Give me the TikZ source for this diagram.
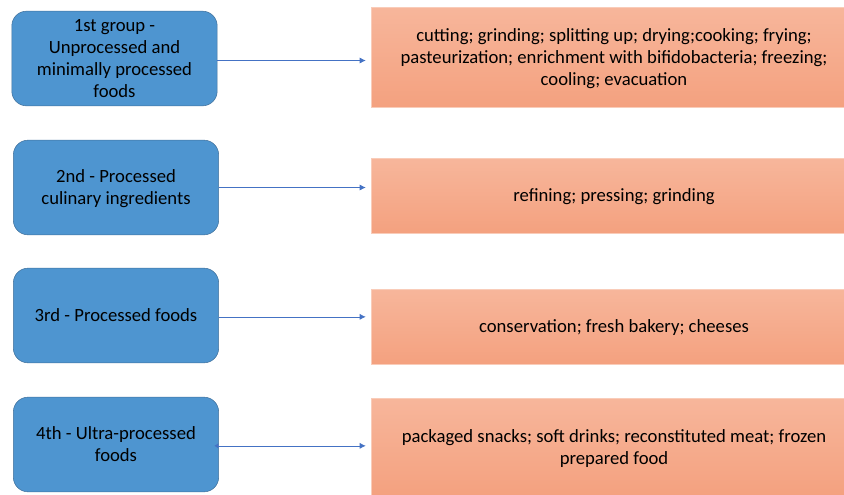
\documentclass[tikz,border=0pt]{standalone}
\usepackage{fontspec}
\setmainfont{Carlito}
\usepackage{xcolor}
\usepackage{tikz}
\usetikzlibrary{arrows.meta,positioning}

\definecolor{grpblue}{HTML}{4E95D0}
\definecolor{grpline}{HTML}{41719C}
\definecolor{steptop}{HTML}{F7B69B}
\definecolor{stepbot}{HTML}{F4A17F}
\definecolor{arrblue}{HTML}{4472C4}

\begin{document}
\begin{tikzpicture}[
  x=0.75pt, y=-0.75pt,
  every node/.style={font=\fontsize{14}{16.5}\selectfont, text depth=0pt},
  groupbox/.style={draw=grpline, fill=grpblue, rounded corners=11pt, align=center, minimum width=154pt, minimum height=71pt, inner sep=2pt},
  stepbox/.style={draw=steptop!70!white, top color=steptop, bottom color=stepbot, align=center, minimum width=364pt, inner sep=2pt},
  edge/.style={-{Latex[length=4.5pt,width=4.5pt]}, arrblue, line width=0.5pt}
]
\useasboundingbox (0,0) rectangle (844,494);

\node[groupbox] (grp1) at (114.5,58.5) {1st group -\\Unprocessed and\\minimally processed\\foods};
\node[groupbox] (grp2) at (116,187.5) {2nd - Processed\\culinary ingredients};
\node[groupbox] (grp3) at (116,315.5) {3rd - Processed foods};
\node[groupbox] (grp4) at (116,444.5) {4th - Ultra-processed\\foods};

\node[stepbox, minimum height=75pt] (proc1) at (614,57) {cutting; grinding; splitting up; drying;cooking; frying;\\pasteurization; enrichment with bifidobacteria; freezing;\\cooling; evacuation};
\node[stepbox, minimum height=56pt] (proc2) at (614,195.5) {refining; pressing; grinding};
\node[stepbox, minimum height=56pt] (proc3) at (614,326.5) {conservation; fresh bakery; cheeses};
\node[stepbox, minimum height=73.5pt] (proc4) at (614,447) {packaged snacks; soft drinks; reconstituted meat; frozen\\prepared food};

\draw[edge, shorten >=4pt] ([yshift=-1.5pt]grp1.east) -- ([yshift=-1.5pt]grp1.east -| proc1.west);
\draw[edge, shorten >=4pt] (grp2.east) -- (grp2.east -| proc2.west);
\draw[edge, shorten >=4pt] ([yshift=-1pt]grp3.east) -- ([yshift=-1pt]grp3.east -| proc3.west);
\draw[edge, {Latex[length=3pt,width=4pt]}-{Latex[length=4.5pt,width=4.5pt]}, shorten >=4pt, shorten <=-3.5pt] ([yshift=-1pt]grp4.east) -- ([yshift=-1pt]grp4.east -| proc4.west);
\end{tikzpicture}
\end{document}
